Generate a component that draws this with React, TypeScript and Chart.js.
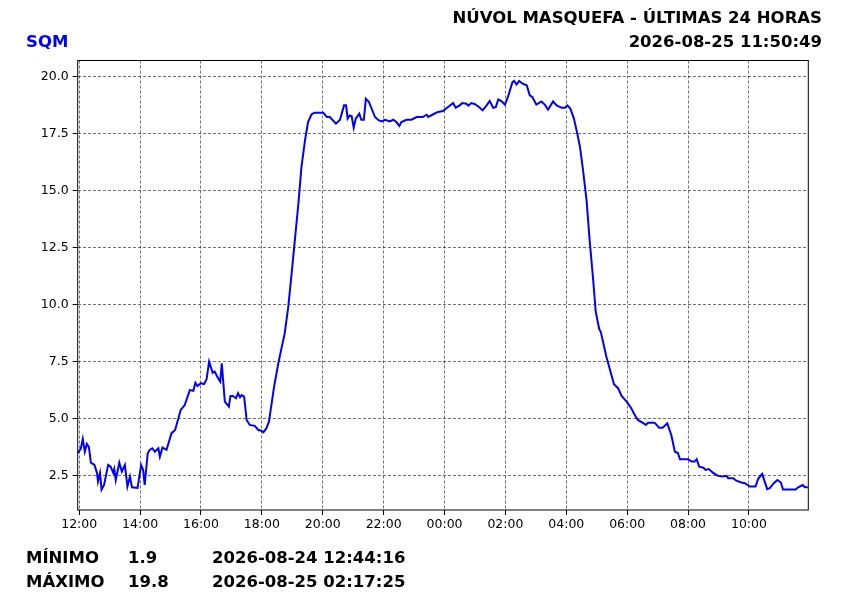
import { useEffect, useRef } from "react";
import { Chart, registerables, type ChartConfiguration, type Plugin } from "chart.js";

Chart.register(...registerables);

// minutes since 2026-08-24 12:00
const offsetMin = [
  -3, 3, 7, 11, 15, 19, 23, 30, 35, 37, 41, 44, 49, 57, 62, 67, 69, 72, 79, 84,
  90, 95, 100, 104, 115, 122, 126, 129, 135, 139, 144, 149, 156, 159, 164, 172, 182, 189, 200, 208,
  218, 225, 229, 233, 240, 246, 251, 256, 263, 267, 274, 278, 281, 287, 295, 298, 303, 309, 313, 317,
  320, 325, 330, 336, 346, 353, 359, 363, 369, 374, 384, 393, 405, 412, 418, 425, 432, 438, 445, 451,
  458, 464, 481, 488, 494, 506, 514, 522, 526, 529, 533, 537, 541, 545, 552, 556, 561, 565, 571, 583,
  590, 596, 603, 612, 619, 625, 631, 635, 645, 655, 665, 677, 685, 688, 698, 707, 717, 727, 737, 742,
  750, 755, 763, 767, 773, 780, 788, 795, 803, 809, 816, 821, 826, 832, 839, 845, 854, 857, 862, 867,
  874, 882, 888, 893, 901, 911, 918, 924, 934, 941, 951, 957, 962, 968, 975, 981, 987, 993, 1000, 1006,
  1013, 1018, 1025, 1028, 1039, 1054, 1062, 1069, 1079, 1088, 1095, 1101, 1110, 1117, 1121, 1134, 1143, 1150, 1159, 1167,
  1174, 1180, 1184, 1200, 1207, 1213, 1217, 1222, 1230, 1235, 1241, 1249, 1259, 1269, 1276, 1279, 1289, 1295, 1305, 1312,
  1322, 1333, 1338, 1346, 1356, 1361, 1369, 1376, 1383, 1387, 1412, 1417, 1426, 1430, 1436,
];

const sqm = [
  3.5, 3.68, 4.12, 3.56, 3.9, 3.77, 3.08, 2.98, 2.63, 2.25, 2.63, 1.9, 2.1, 2.98, 2.9, 2.63, 2.8, 2.32, 3.08, 2.69,
  2.98, 2.03, 2.47, 2.0, 1.97, 2.98, 2.76, 2.1, 3.49, 3.64, 3.71, 3.56, 3.71, 3.34, 3.74, 3.64, 4.37, 4.51, 5.39, 5.6,
  6.26, 6.23, 6.58, 6.44, 6.56, 6.52, 6.73, 7.5, 7.02, 7.07, 6.77, 6.63, 7.43, 5.75, 5.53, 6.0, 6.0, 5.9, 6.12, 5.94,
  6.04, 5.97, 4.95, 4.73, 4.69, 4.51, 4.48, 4.41, 4.59, 4.88, 6.4, 7.5, 8.74, 9.9, 11.22, 12.83, 14.43, 16.03, 17.2, 18.0,
  18.34, 18.41, 18.41, 18.22, 18.22, 17.93, 18.1, 18.73, 18.73, 18.15, 18.29, 18.25, 17.75, 18.15, 18.37, 18.1, 18.1, 19.02, 18.88, 18.22,
  18.08, 18.03, 18.1, 18.03, 18.1, 18.0, 17.83, 18.0, 18.1, 18.1, 18.22, 18.22, 18.32, 18.22, 18.34, 18.44, 18.48, 18.66, 18.83, 18.63,
  18.73, 18.83, 18.8, 18.72, 18.83, 18.78, 18.66, 18.51, 18.73, 18.92, 18.62, 18.65, 18.99, 18.92, 18.76, 19.1, 19.75, 19.8, 19.64, 19.8,
  19.68, 19.61, 19.17, 19.1, 18.76, 18.9, 18.75, 18.54, 18.9, 18.73, 18.62, 18.62, 18.73, 18.59, 18.15, 17.56, 16.91, 15.89, 14.57, 12.83,
  11.08, 9.69, 8.92, 8.81, 7.72, 6.51, 6.34, 6.0, 5.75, 5.46, 5.17, 4.95, 4.83, 4.73, 4.83, 4.83, 4.61, 4.61, 4.8, 4.29,
  3.56, 3.5, 3.23, 3.23, 3.13, 3.13, 3.23, 2.9, 2.86, 2.76, 2.8, 2.64, 2.5, 2.47, 2.5, 2.4, 2.4, 2.29, 2.21, 2.18,
  2.03, 2.03, 2.36, 2.59, 1.92, 1.96, 2.18, 2.32, 2.21, 1.9, 1.9, 2.0, 2.1, 2.0, 2.0,
];

// tick positions, minutes since 12:00
const hourTicks = [0, 120, 240, 360, 480, 600, 720, 840, 960, 1080, 1200, 1320];
const sqmTicks = [2.5, 5, 7.5, 10, 12.5, 15, 17.5, 20];

const titleText = "NÚVOL MASQUEFA - ÚLTIMAS 24 HORAS";
const stampText = "2026-08-25 11:50:49";
const seriesName = "SQM";
const statRows = [
  { label: "MÍNIMO", value: "1.9", when: "2026-08-24 12:44:16" },
  { label: "MÁXIMO", value: "19.8", when: "2026-08-25 02:17:25" },
];

const FONT = "'DejaVu Sans', sans-serif";

const frame: Plugin = {
  id: "frame",
  afterDraw(chart) {
    const { ctx, chartArea: a } = chart;
    ctx.save();
    ctx.strokeStyle = "#000";
    ctx.lineWidth = 1;
    ctx.strokeRect(a.left, a.top, a.right - a.left, a.bottom - a.top);
    ctx.restore();
  },
};

export default function App() {
  const canvasRef = useRef<HTMLCanvasElement>(null);

  useEffect(() => {
    const canvas = canvasRef.current;
    if (!canvas) return;

    const gridStyle = {
      color: "rgba(0,0,0,0.8)",
      lineWidth: 0.7,
      tickColor: "#000",
      tickBorderDash: [],
      tickWidth: 1,
      tickLength: 5,
    };
    // in chart.js 4 the grid line dash lives under border
    const borderStyle = { display: false, dash: [3, 2] };

    const config: ChartConfiguration<"line"> = {
      type: "line",
      data: {
        datasets: [
          {
            label: seriesName,
            data: offsetMin.map((m, i) => ({ x: m, y: sqm[i] })),
            borderColor: "#0000ff",
            borderWidth: 2,
            pointRadius: 0,
            tension: 0,
            fill: false,
          },
        ],
      },
      options: {
        responsive: false,
        animation: false,
        devicePixelRatio: 1,
        layout: { padding: { top: 60.5, right: 41.7, left: 0, bottom: 0 } },
        plugins: { legend: { display: false }, tooltip: { enabled: false } },
        scales: {
          x: {
            type: "linear",
            min: -3,
            max: 1437,
            afterFit: (s) => { s.height = 90; },
            afterBuildTicks: (s) => { s.ticks = hourTicks.map((value) => ({ value })); },
            ticks: {
              autoSkip: false,
              maxRotation: 0,
              padding: 2,
              color: "#000",
              font: { family: FONT, size: 12.5 },
              callback: (v) => String((12 + Number(v) / 60) % 24).padStart(2, "0") + ":00",
            },
            grid: gridStyle,
            border: borderStyle,
          },
          y: {
            min: 1.005,
            max: 20.695,
            afterFit: (s) => { s.width = 77.7; },
            afterBuildTicks: (s) => { s.ticks = sqmTicks.map((value) => ({ value })); },
            ticks: {
              padding: 4,
              color: "#000",
              font: { family: FONT, size: 12.5 },
              callback: (v) => Number(v).toFixed(1),
            },
            grid: gridStyle,
            border: borderStyle,
          },
        },
      },
      plugins: [frame],
    };

    const chart = new Chart(canvas, config);
    return () => chart.destroy();
  }, []);

  const textBase = {
    position: "absolute" as const,
    fontFamily: FONT,
    fontWeight: "bold" as const,
    fontSize: "16.5px",
    lineHeight: "16.5px",
    whiteSpace: "nowrap" as const,
    color: "#000",
  };

  return (
    <div style={{ position: "absolute", left: 0, top: 0, width: 850, height: 600, background: "#fff" }}>
      <canvas ref={canvasRef} width={850} height={600} style={{ position: "absolute", left: 0, top: 0 }} />
      <div style={{ ...textBase, right: 28, top: 10, textAlign: "right" }}>{titleText}</div>
      <div style={{ ...textBase, right: 28, top: 34, textAlign: "right" }}>{stampText}</div>
      <div style={{ ...textBase, left: 26, top: 34, color: "#0000ff" }}>{seriesName}</div>
      {statRows.map((r, i) => (
        <div key={r.label} style={{ position: "absolute", left: 0, top: 550 + i * 24 }}>
          <span style={{ ...textBase, left: 26, top: 0 }}>{r.label}</span>
          <span style={{ ...textBase, left: 128, top: 0 }}>{r.value}</span>
          <span style={{ ...textBase, left: 212, top: 0 }}>{r.when}</span>
        </div>
      ))}
    </div>
  );
}
